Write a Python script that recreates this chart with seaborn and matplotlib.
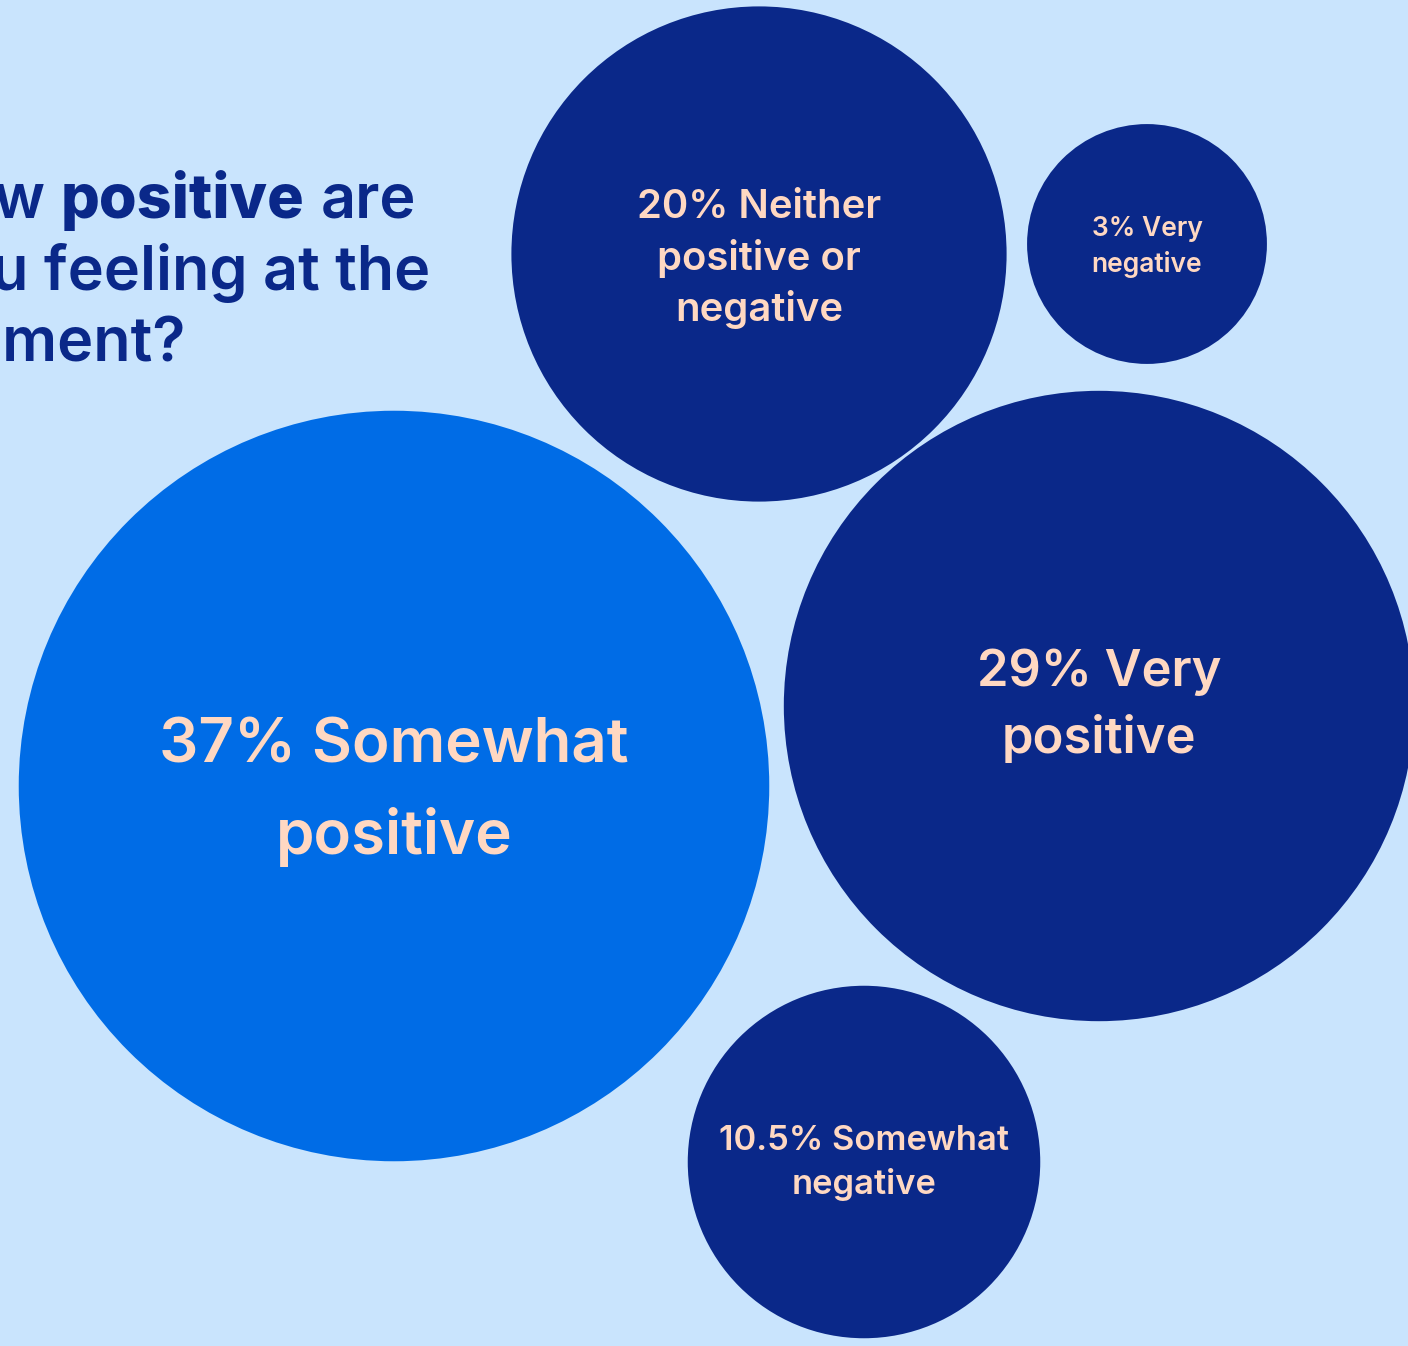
import textwrap

import matplotlib
matplotlib.use("Agg")
import matplotlib.pyplot as plt
import pandas as pd
import seaborn as sns

# ---- data -------------------------------------------------------------
categories = [
    "Somewhat positive",
    "Very positive",
    "Neither positive or negative",
    "Very negative",
    "Somewhat negative",
]
values = [37, 29, 20, 3, 10.5]
value_labels = ["37%", "29%", "20%", "3%", "10.5%"]

# ---- layout / styling -------------------------------------------------
W, H, DPI = 1408, 1346, 100
bubble_x = [394, 1099, 759, 1147, 864]      # bubble centres, canvas px
bubble_y = [786, 706, 254, 244, 1162]
label_pt = [44.5, 36.5, 28.8, 19.0, 24.8]
label_spacing = [1.67, 1.47, 1.39, 1.43, 1.45]
label_dy = [6, 0, 5, 3, 1]

BG = "#C9E4FD"
NAVY = "#0A2889"
BLUE = "#006CE6"
PEACH = "#FFD8C2"

sns.set_theme(style="white")
plt.rcParams["font.family"] = ["Inter", "DejaVu Sans"]

df = pd.DataFrame({
    "category": categories,
    "value": values,
    "label": value_labels,
    "x": bubble_x,
    "y": bubble_y,
})
# radius grows linearly with the share (px), converted to marker area in pt^2
df["radius"] = 97.4 + 7.51 * df["value"]
df["area"] = (2 * df["radius"] * 72 / DPI) ** 2

palette = {c: NAVY for c in categories}
palette["Somewhat positive"] = BLUE

fig = plt.figure(figsize=(W / DPI, H / DPI), dpi=DPI, facecolor=BG)
ax = fig.add_axes([0, 0, 1, 1])
ax.set_facecolor(BG)

sns.scatterplot(
    data=df, x="x", y="y", hue="category", palette=palette,
    s=df["area"].to_numpy(), linewidth=0, legend=False, ax=ax, zorder=2,
)

ax.set_xlim(0, W)
ax.set_ylim(H, 0)
ax.axis("off")

# bubble labels
for i, row in df.iterrows():
    txt = textwrap.fill(f"{row['label']} {row['category']}", 14)
    ax.text(row["x"], row["y"] + label_dy[i], txt, ha="center", va="center",
            multialignment="center", fontsize=label_pt[i],
            fontweight="semibold", color=PEACH,
            linespacing=label_spacing[i], zorder=3)

# question heading (runs off the left edge)
title_pt = 44
ax.text(46, 218, "How", ha="right", va="baseline", fontsize=title_pt,
        fontweight="semibold", color=NAVY, zorder=3)
ax.text(304, 218, "positive", ha="right", va="baseline", fontsize=title_pt,
        fontweight="extra bold", color=NAVY, zorder=3)
ax.text(321, 218, "are", ha="left", va="baseline", fontsize=title_pt,
        fontweight="semibold", color=NAVY, zorder=3)
ax.text(430, 290, "you feeling at the", ha="right", va="baseline",
        fontsize=title_pt, fontweight="semibold", color=NAVY, zorder=3)
ax.text(186, 362, "moment?", ha="right", va="baseline", fontsize=title_pt,
        fontweight="semibold", color=NAVY, zorder=3)

fig.savefig("out.png", dpi=DPI, facecolor=BG)
